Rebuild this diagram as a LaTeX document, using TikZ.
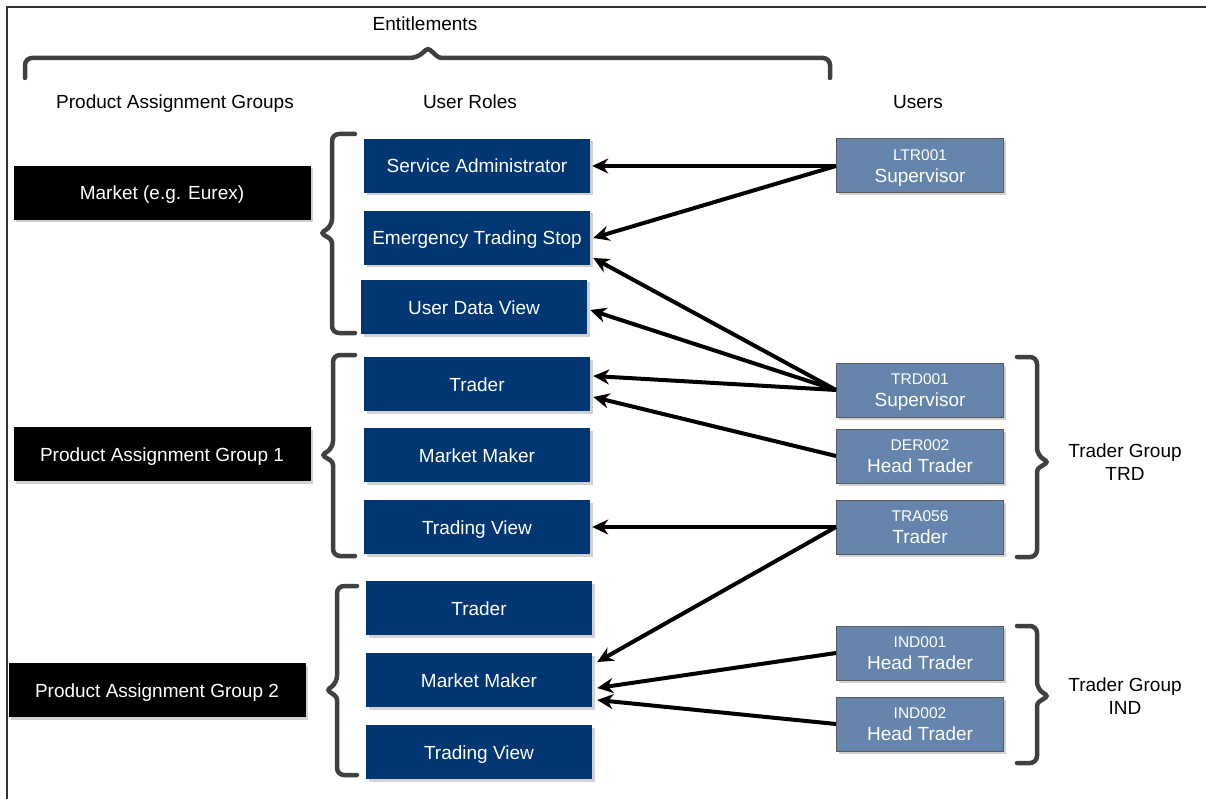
\documentclass[tikz,border=0pt]{standalone}
\usepackage{fontspec}
\setmainfont{Liberation Sans}
\usetikzlibrary{arrows.meta,shadows}
\definecolor{rolebg}{HTML}{003772}
\definecolor{userbg}{HTML}{6685AC}
\definecolor{bracec}{HTML}{404040}
\begin{document}
\begin{tikzpicture}[x=1pt,y=-1pt,
 base/.style={inner sep=0pt, font=\fontsize{19}{22}\selectfont, text=white, anchor=center},
 shad/.style={drop shadow={shadow xshift=2.5pt,shadow yshift=-2.5pt,fill=black!18,opacity=1}},
 pag/.style={base, shad, fill=black, minimum width=297pt, minimum height=54pt, text height=14pt, text depth=0pt},
 role/.style={base, shad, fill=rolebg, minimum width=226pt, minimum height=54pt, text height=14pt, text depth=0pt},
 user/.style={base, shad, fill=userbg, draw=black!65, line width=1pt, minimum width=167pt, minimum height=54pt, align=center, text depth=0pt},
 hdr/.style={font=\fontsize{19}{23}\selectfont, text=black, align=center},
 hdr1/.style={font=\fontsize{19}{23}\selectfont, text=black, text height=14pt, text depth=0pt},
 brk/.style={draw=bracec, line width=4.5pt, rounded corners=7pt, line cap=round},
 conn/.style={line width=4pt, -{Stealth[length=16pt,width=15pt]}},
]
\useasboundingbox (0,0) rectangle (1206,799);
\fill[white] (0,0) rectangle (1206,799);
\draw[line width=2pt, black!80] (7,799) -- (7,7) -- (1206,7);

% headers
\node[hdr1] (ent) at (425,24) {Entitlements};
\node[hdr1] (hpag) at (175,102) {Product Assignment Groups};
\node[hdr1] (hrole) at (470,102) {User Roles};
\node[hdr1] (huser) at (918,102) {Users};

% top brace
\draw[brk] (25,78) -- (25,58) -- (417,58) [rounded corners=3pt] -- (428,48) -- (439,58) [rounded corners=7pt] -- (830,58) -- (830,78);

% product assignment groups
\node[pag] (mkt) at (162,193) {Market (e.g. Eurex)};
\node[pag] (pag1) at (162,454) {Product Assignment Group 1};
\node[pag] (pag2) at (157,690) {Product Assignment Group 2};

% roles
\node[role] (sa) at (477,166) {Service Administrator};
\node[role] (ets) at (477,238) {Emergency Trading Stop};
\node[role] (udv) at (474,307) {User Data View};
\node[role] (tr1) at (477,384) {Trader};
\node[role] (mm1) at (477,455) {Market Maker};
\node[role] (tv1) at (477,527) {Trading View};
\node[role] (tr2) at (479,608) {Trader};
\node[role] (mm2) at (479,680) {Market Maker};
\node[role] (tv2) at (479,752) {Trading View};

% left braces
\draw[brk] (355,134) -- (332,134) -- (332,226) [rounded corners=3pt] -- (321,233) -- (332,240) [rounded corners=7pt] -- (332,333) -- (355,333);
\draw[brk] (355,355) -- (333,355) -- (333,448) [rounded corners=3pt] -- (322,455) -- (333,462) [rounded corners=7pt] -- (333,556) -- (355,556);
\draw[brk] (357,586) -- (337,586) -- (337,683) [rounded corners=3pt] -- (327,690) -- (337,697) [rounded corners=7pt] -- (337,775) -- (357,775);

% users
\node[user] (ltr) at (920,166) {{\fontsize{15.5}{18}\selectfont LTR001}\\Supervisor};
\node[user] (trd) at (920,390) {{\fontsize{15.5}{18}\selectfont TRD001}\\Supervisor};
\node[user] (der) at (920,456) {{\fontsize{15.5}{18}\selectfont DER002}\\Head Trader};
\node[user] (tra) at (920,527) {{\fontsize{15.5}{18}\selectfont TRA056}\\Trader};
\node[user] (ind1) at (920,653) {{\fontsize{15.5}{18}\selectfont IND001}\\Head Trader};
\node[user] (ind2) at (920,724) {{\fontsize{15.5}{18}\selectfont IND002}\\Head Trader};

% right braces
\draw[brk] (1017,357) -- (1037,357) -- (1037,455) [rounded corners=3pt] -- (1048,462) -- (1037,469) [rounded corners=7pt] -- (1037,557) -- (1017,557);
\draw[brk] (1017,626) -- (1037,626) -- (1037,689) [rounded corners=3pt] -- (1048,696) -- (1037,703) [rounded corners=7pt] -- (1037,763) -- (1017,763);

\node[hdr] (tgtrd) at (1125,462) {Trader Group\\TRD};
\node[hdr] (tgind) at (1125,696) {Trader Group\\IND};

% connectors
\draw[conn] (ltr.west) -- ([xshift=2pt]sa.east);
\draw[conn] (ltr.west) -- ([xshift=3pt]ets.east);
\draw[conn] (trd.west) -- ([xshift=3pt,yshift=-20pt]ets.east);
\draw[conn] (trd.west) -- ([xshift=3pt,yshift=-3pt]udv.east);
\draw[conn] (trd.west) -- ([xshift=3pt,yshift=8pt]tr1.east);
\draw[conn] (der.west) -- ([xshift=3pt,yshift=-13pt]tr1.east);
\draw[conn] (tra.west) -- ([xshift=2pt]tv1.east);
\draw[conn] (tra.west) -- ([xshift=5pt,yshift=18pt]mm2.east);
\draw[conn] (ind1.west) -- ([xshift=5pt,yshift=-8pt]mm2.east);
\draw[conn] (ind2.west) -- ([xshift=5pt,yshift=-20pt]mm2.east);
\end{tikzpicture}
\end{document}
